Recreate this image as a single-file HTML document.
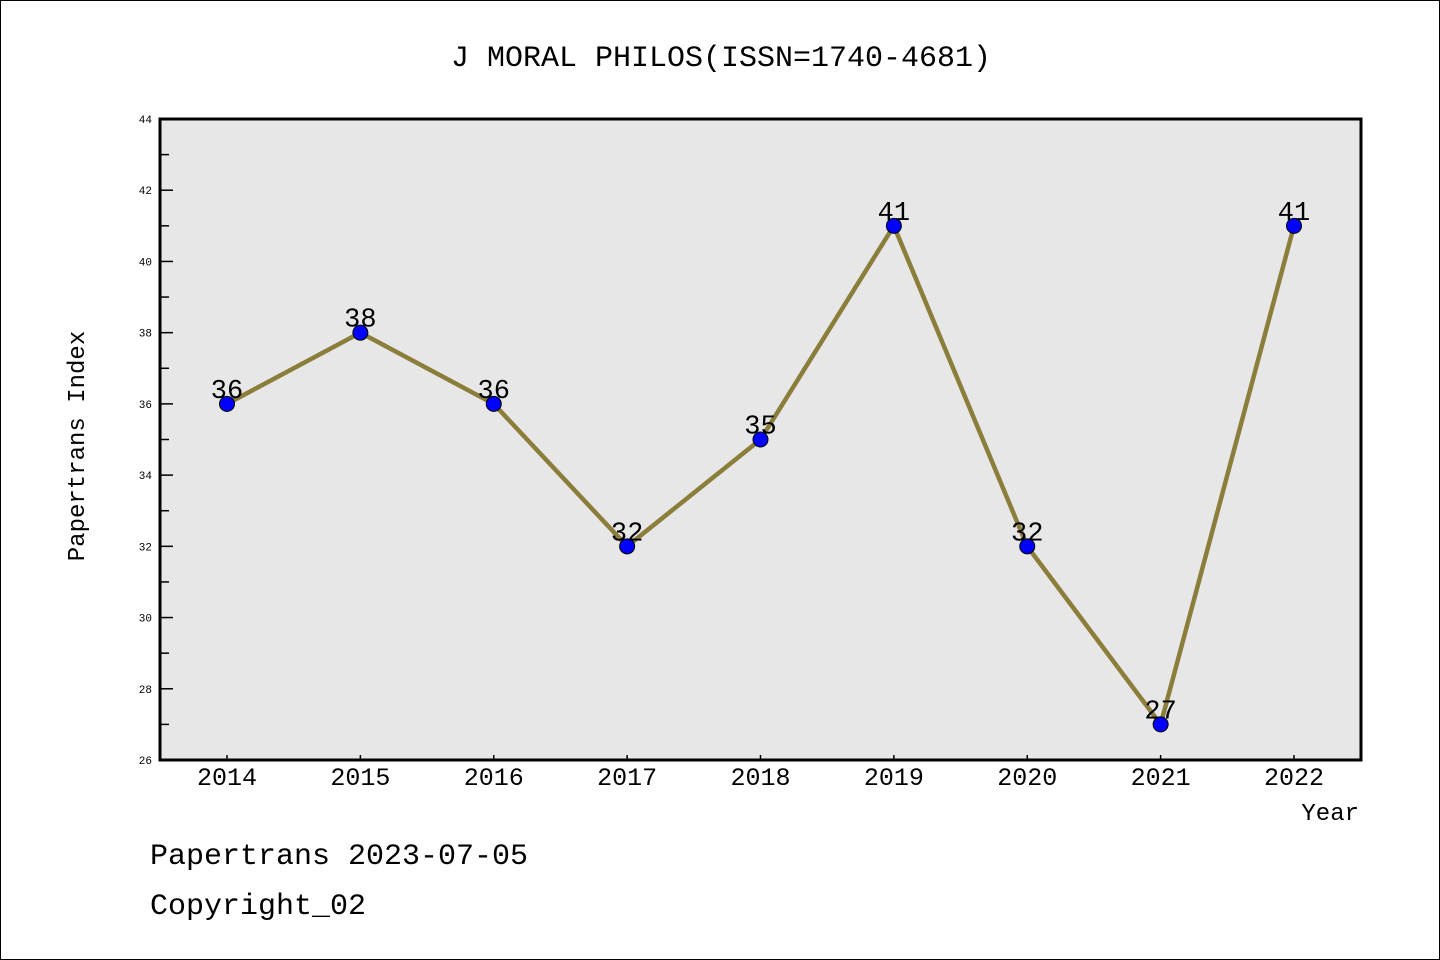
<!DOCTYPE html>
<html><head><meta charset="utf-8"><style>
html,body{margin:0;padding:0;background:#fff}
svg{display:block}
text{font-family:"Liberation Mono","WenQuanYi Zen Hei",monospace}
</style></head><body>
<svg id="c" width="1440" height="960" viewBox="0 0 1440 960">
<rect x="0.5" y="0.5" width="1439" height="959" fill="#fff" stroke="#000" stroke-width="1"/>
<text x="721" y="66" text-anchor="middle" font-size="30">J MORAL PHILOS(ISSN=1740-4681)</text>
<rect x="160" y="119" width="1201" height="641" fill="#e7e7e7"/>
<g id="g"></g>
<rect x="160" y="119" width="1201" height="641" fill="none" stroke="#000" stroke-width="3"/>
<text x="84" y="446" text-anchor="middle" font-size="24" transform="rotate(-90 84 446)">Papertrans Index</text>
<text x="1359" y="820" text-anchor="end" font-size="24">Year</text>
<text x="150" y="864" font-size="30">Papertrans 2023-07-05</text>
<text x="150" y="914" font-size="30">Copyright_02</text>
</svg>
<script>
const years=["2014","2015","2016","2017","2018","2019","2020","2021","2022"];
const values=[36,38,36,32,35,41,32,27,41];
const yTicks=[26,28,30,32,34,36,38,40,42,44];
const NS="http://www.w3.org/2000/svg";
const g=document.getElementById("g");
const X0=227,X1=1294,Ymin=26,Ymax=44,YB=760,YT=119;
function xs(i){return X0+(X1-X0)*i/(years.length-1);}
function ys(v){return YB-(v-Ymin)/(Ymax-Ymin)*(YB-YT);}
function mk(t,a){const e=document.createElementNS(NS,t);for(const k in a)e.setAttribute(k,a[k]);g.appendChild(e);return e;}
for(let v=Ymin;v<=Ymax;v++){
  const major=(v%2===0);
  const t=mk("line",{x1:160,x2:160+(major?13:9),y1:ys(v),y2:ys(v),stroke:"#000","stroke-width":1.5});
  
  
}
yTicks.forEach(v=>{
  const t=mk("text",{x:152,y:ys(v)+4,"text-anchor":"end","font-size":11});
  t.textContent=v;
  
  
});
years.forEach((y,i)=>{
  const t=mk("line",{x1:xs(i),x2:xs(i),y1:760,y2:755,stroke:"#000","stroke-width":1.5});
  
  
  const l=mk("text",{x:xs(i),y:785,"text-anchor":"middle","font-size":25});
  l.textContent=y;
  
  
});
const line=mk("polyline",{points:values.map((v,i)=>xs(i)+","+ys(v)).join(" "),fill:"none",stroke:"#8b7d3a","stroke-width":4.5});


values.forEach((v,i)=>{
  const c=mk("circle",{cx:xs(i),cy:ys(v),r:7.5,fill:"#0000ff",stroke:"#000","stroke-width":1});
  
  
  const t=mk("text",{x:xs(i),y:ys(v)-6,"text-anchor":"middle","font-size":27});
  t.textContent=v;
  
  
});
</script>
</body></html>
